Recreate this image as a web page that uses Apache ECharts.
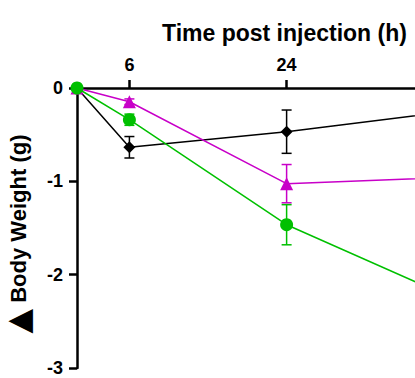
<!DOCTYPE html>
<html><head><meta charset="utf-8">
<script src="https://cdn.jsdelivr.net/npm/echarts@6/dist/echarts.min.js"></script>
<style>html,body{margin:0;padding:0;background:#fff}#c{width:415px;height:378px}</style>
</head><body><div id="c"></div>
<script>
// Data (hours post injection; last point lies beyond the visible crop)
const times = [0, 6, 24, 48];
const xTickValues = [6, 24];
const blackVals = [0, -0.635, -0.468, -0.19];
const blackErr = [0, 0.115, 0.232, 0.2];
const magentaVals = [0, -0.147, -1.025, -0.94];
const magentaErr = [0, 0.03, 0.205, 0.2];
const greenVals = [0, -0.34, -1.465, -2.46];
const greenErr = [0, 0.06, 0.215, 0.2];
const xTitle = 'Time post injection (h)';
const yTitleMark = '\u25B2';
const yTitleText = ' Body Weight (g)';

const FONT = '"Liberation Sans", Arial, sans-serif';
const COL_BLACK = '#000000', COL_MAG = '#c800c8', COL_GREEN = '#00c000';

function pairs(vals){ return times.map((t,i)=>[t, vals[i]]); }
function errData(vals, err){ return times.map((t,i)=>[t, vals[i]-err[i], vals[i]+err[i]]); }

function errSeries(vals, err, color){
  return {
    type: 'custom', clip: true, z: 1,
    data: errData(vals, err),
    renderItem: function(params, api){
      const x = api.value(0), lo = api.value(1), hi = api.value(2);
      if (hi - lo <= 0) return null;
      const p1 = api.coord([x, lo]), p2 = api.coord([x, hi]);
      const w = 5;
      const st = {stroke: color, lineWidth: 1.5};
      return {type: 'group', children: [
        {type:'line', shape:{x1:p1[0],y1:p1[1],x2:p2[0],y2:p2[1]}, style: st},
        {type:'line', shape:{x1:p1[0]-w,y1:p1[1],x2:p1[0]+w,y2:p1[1]}, style: st},
        {type:'line', shape:{x1:p2[0]-w,y1:p2[1],x2:p2[0]+w,y2:p2[1]}, style: st}
      ]};
    }
  };
}
function lineSeries(vals, color, symbol, size){
  return {
    type: 'line', clip: true, z: 3,
    data: pairs(vals), symbol: symbol, symbolSize: size, showSymbol: true,
    lineStyle: {color: color, width: 1.5},
    itemStyle: {color: color, borderWidth: 0},
    emphasis: {disabled: true}, animation: false
  };
}

const chart = echarts.init(document.getElementById('c'), null, {renderer: 'svg'});
chart.setOption({
  animation: false,
  grid: {left: 77, top: 88, right: 0, bottom: 10, containLabel: false, outerBoundsMode: 'none'},
  xAxis: {
    type: 'value', position: 'top', min: 0, max: 38.7,
    axisLine: {onZero: false, lineStyle: {color: '#000', width: 2.5}},
    axisTick: {show: true, length: 8, lineStyle: {color: '#000', width: 2.5}, customValues: xTickValues},
    axisLabel: {margin: 14, color: '#000', fontFamily: FONT, fontWeight: 'bold', fontSize: 18, customValues: xTickValues},
    splitLine: {show: false}
  },
  yAxis: {
    type: 'value', min: -3, max: 0, interval: 1,
    name: '{t|' + yTitleMark + '}{b|' + yTitleText + '}', nameLocation: 'middle', nameGap: 43,
    nameTextStyle: {color: '#000', fontFamily: FONT, fontWeight: 'bold', fontSize: 22,
      padding: [0, 12, 0, 0],
      rich: {
        t: {fontSize: 32, fontFamily: '"DejaVu Sans", sans-serif', fontWeight: 'bold', color: '#000'},
        b: {fontSize: 22, fontFamily: FONT, fontWeight: 'bold', color: '#000'}
      }},
    axisLine: {onZero: false, lineStyle: {color: '#000', width: 2.5}},
    axisTick: {show: true, length: 8, lineStyle: {color: '#000', width: 2.5}},
    axisLabel: {margin: 14, color: '#000', fontFamily: FONT, fontWeight: 'bold', fontSize: 18},
    splitLine: {show: false}
  },
  graphic: [{
    type: 'text', left: 162, top: 21,
    style: {text: xTitle, fill: '#000', font: 'bold 23px ' + FONT}
  }],
  series: [
    errSeries(blackVals, blackErr, COL_BLACK),
    errSeries(magentaVals, magentaErr, COL_MAG),
    errSeries(greenVals, greenErr, COL_GREEN),
    lineSeries(blackVals, COL_BLACK, 'diamond', 12),
    lineSeries(magentaVals, COL_MAG, 'triangle', 13),
    lineSeries(greenVals, COL_GREEN, 'circle', 13)
  ]
});
</script></body></html>
